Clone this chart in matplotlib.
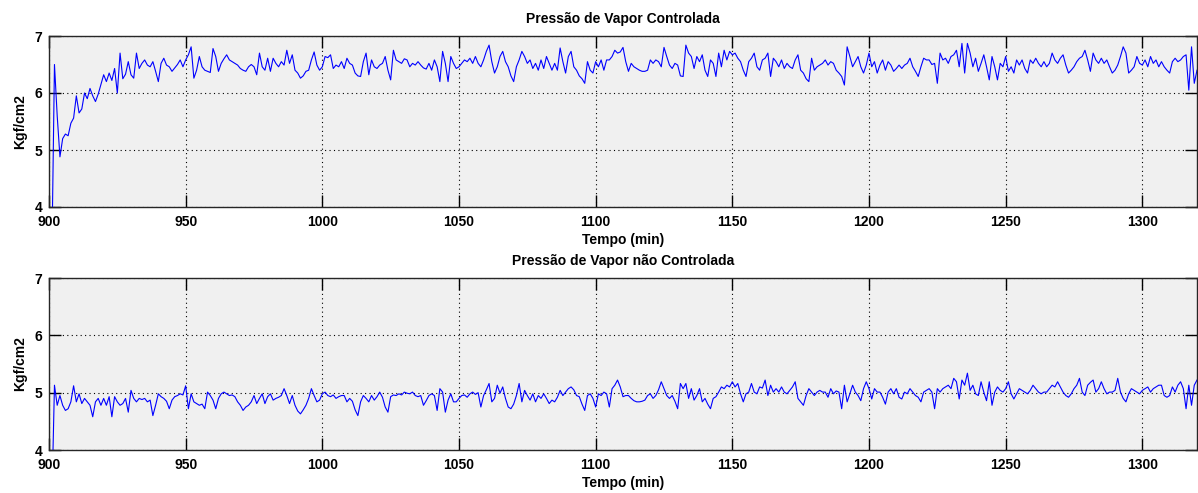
import numpy as np
import matplotlib
matplotlib.use("Agg")
import matplotlib.pyplot as plt

plt.rcParams['font.family'] = ['Liberation Sans', 'DejaVu Sans']
plt.rcParams['font.weight'] = 'bold'

# pressao controlada (kgf/cm2), um valor por minuto a partir de 901
controlada = [
    3.0, 6.5, 5.6, 4.88, 5.2, 5.28, 5.25, 5.47, 5.56, 5.95,
    5.65, 5.72, 6.0, 5.9, 6.08, 5.95, 5.85, 5.98, 6.15, 6.32,
    6.2, 6.35, 6.22, 6.43, 6.0, 6.7, 6.25, 6.33, 6.55, 6.32,
    6.26, 6.7, 6.43, 6.52, 6.58, 6.49, 6.46, 6.55, 6.38, 6.2,
    6.52, 6.61, 6.49, 6.46, 6.38, 6.44, 6.5, 6.58, 6.46, 6.58,
    6.67, 6.81, 6.26, 6.4, 6.64, 6.46, 6.40, 6.38, 6.36, 6.78,
    6.64, 6.38, 6.52, 6.60, 6.67, 6.58, 6.55, 6.52, 6.49, 6.43,
    6.40, 6.38, 6.46, 6.50, 6.46, 6.32, 6.70, 6.46, 6.40, 6.61,
    6.38, 6.61, 6.52, 6.46, 6.55, 6.49, 6.75, 6.52, 6.67, 6.40,
    6.35, 6.26, 6.30, 6.38, 6.40, 6.58, 6.72, 6.49, 6.40, 6.46,
    6.64, 6.62, 6.67, 6.43, 6.49, 6.46, 6.55, 6.43, 6.61, 6.52,
    6.49, 6.35, 6.30, 6.29, 6.55, 6.70, 6.32, 6.58, 6.46, 6.43,
    6.49, 6.52, 6.64, 6.40, 6.23, 6.75, 6.58, 6.55, 6.52, 6.60,
    6.58, 6.46, 6.52, 6.49, 6.55, 6.49, 6.44, 6.42, 6.52, 6.40,
    6.58, 6.46, 6.20, 6.73, 6.52, 6.20, 6.64, 6.52, 6.43, 6.46,
    6.52, 6.58, 6.55, 6.61, 6.52, 6.64, 6.52, 6.46, 6.58, 6.73,
    6.84, 6.55, 6.35, 6.46, 6.64, 6.73, 6.55, 6.46, 6.30, 6.20,
    6.46, 6.58, 6.73, 6.64, 6.52, 6.58, 6.43, 6.52, 6.40, 6.58,
    6.43, 6.64, 6.52, 6.40, 6.52, 6.40, 6.79, 6.55, 6.35, 6.64,
    6.73, 6.46, 6.40, 6.30, 6.25, 6.17, 6.55, 6.40, 6.35, 6.55,
    6.46, 6.58, 6.40, 6.58, 6.58, 6.64, 6.75, 6.70, 6.72, 6.80,
    6.55, 6.38, 6.52, 6.46, 6.43, 6.40, 6.38, 6.38, 6.40, 6.58,
    6.52, 6.58, 6.55, 6.46, 6.80, 6.64, 6.49, 6.43, 6.52, 6.49,
    6.30, 6.29, 6.84, 6.70, 6.64, 6.43, 6.64, 6.55, 6.67, 6.40,
    6.29, 6.58, 6.52, 6.29, 6.70, 6.46, 6.75, 6.58, 6.73, 6.67,
    6.70, 6.61, 6.55, 6.40, 6.29, 6.55, 6.61, 6.70, 6.46, 6.40,
    6.58, 6.61, 6.70, 6.29, 6.61, 6.55, 6.46, 6.58, 6.43, 6.52,
    6.46, 6.43, 6.58, 6.67, 6.40, 6.35, 6.25, 6.20, 6.61, 6.40,
    6.46, 6.49, 6.52, 6.58, 6.49, 6.55, 6.52, 6.40, 6.35, 6.29,
    6.14, 6.81, 6.64, 6.46, 6.55, 6.64, 6.46, 6.35, 6.49, 6.70,
    6.46, 6.55, 6.35, 6.49, 6.58, 6.40, 6.55, 6.49, 6.38, 6.43,
    6.49, 6.43, 6.49, 6.52, 6.61, 6.46, 6.38, 6.29, 6.46, 6.61,
    6.58, 6.58, 6.50, 6.52, 6.17, 6.70, 6.58, 6.61, 6.52, 6.64,
    6.67, 6.75, 6.46, 6.87, 6.35, 6.87, 6.70, 6.46, 6.61, 6.38,
    6.52, 6.67, 6.46, 6.23, 6.64, 6.46, 6.23, 6.52, 6.46, 6.64,
    6.38, 6.46, 6.35, 6.58, 6.49, 6.58, 6.43, 6.35, 6.58, 6.52,
    6.61, 6.52, 6.46, 6.55, 6.46, 6.52, 6.70, 6.58, 6.52, 6.61,
    6.67, 6.49, 6.35, 6.40, 6.46, 6.55, 6.61, 6.64, 6.75, 6.58,
    6.38, 6.70, 6.58, 6.52, 6.61, 6.52, 6.58, 6.46, 6.35, 6.40,
    6.49, 6.64, 6.81, 6.70, 6.35, 6.40, 6.46, 6.64, 6.52, 6.49,
    6.58, 6.46, 6.64, 6.52, 6.58, 6.46, 6.55, 6.46, 6.40, 6.35,
    6.55, 6.61, 6.55, 6.58, 6.64, 6.67, 6.05, 6.81, 6.17, 6.40,
]

# pressao nao controlada (kgf/cm2)
nao_controlada = [
    3.0, 5.13, 4.78, 4.95, 4.78, 4.69, 4.72, 4.84, 5.12, 4.84,
    4.98, 4.81, 4.90, 4.84, 4.78, 4.58, 4.84, 4.90, 4.78, 4.90,
    4.78, 4.93, 4.58, 4.93, 4.84, 4.78, 4.81, 4.90, 4.66, 5.04,
    4.90, 4.84, 4.90, 4.88, 4.90, 4.84, 4.87, 4.60, 4.78, 4.98,
    4.93, 4.90, 4.85, 4.72, 4.87, 4.93, 4.95, 4.98, 4.96, 5.12,
    4.72, 4.98, 4.84, 4.81, 4.78, 4.80, 4.72, 5.01, 4.95, 4.87,
    4.72, 4.90, 4.98, 5.01, 4.98, 4.95, 4.96, 4.93, 4.84, 4.78,
    4.69, 4.75, 4.78, 4.84, 4.95, 4.81, 4.90, 4.98, 4.81, 4.93,
    4.98, 4.87, 4.90, 4.92, 4.95, 5.07, 4.95, 4.81, 4.95, 4.78,
    4.68, 4.63, 4.70, 4.78, 4.90, 5.07, 4.95, 4.84, 4.87, 4.98,
    5.01, 4.95, 4.93, 4.96, 4.90, 4.93, 4.95, 4.95, 4.84, 4.90,
    4.85, 4.70, 4.60, 4.84, 4.95, 4.90, 4.84, 4.95, 4.87, 4.93,
    5.01, 4.92, 4.75, 4.66, 4.93, 4.96, 4.95, 4.98, 4.96, 5.01,
    4.99, 4.98, 5.01, 4.95, 4.93, 4.95, 4.78, 4.86, 4.95, 4.98,
    4.95, 4.69, 5.07, 5.01, 4.66, 4.87, 4.98, 4.84, 4.84, 4.90,
    4.95, 4.96, 4.92, 4.98, 5.01, 4.97, 5.00, 4.75, 4.95, 5.05,
    5.16, 4.84, 4.90, 5.13, 4.99, 5.10, 4.90, 4.75, 4.72, 4.80,
    4.95, 5.16, 4.84, 5.04, 4.95, 4.87, 4.98, 4.84, 4.95, 4.90,
    4.98, 4.90, 4.81, 4.87, 4.84, 4.92, 5.04, 4.95, 5.01, 5.07,
    5.10, 5.05, 4.95, 4.93, 4.80, 4.69, 4.95, 4.98, 4.90, 4.75,
    4.98, 4.95, 5.01, 4.98, 4.75, 5.07, 5.13, 5.22, 5.10, 4.93,
    4.95, 4.95, 4.90, 4.86, 4.84, 4.84, 4.85, 4.87, 4.95, 4.98,
    4.90, 4.95, 5.05, 5.19, 5.07, 4.95, 4.90, 4.95, 4.85, 4.72,
    5.16, 5.07, 5.16, 4.90, 5.07, 4.87, 4.95, 5.07, 4.84, 4.90,
    4.80, 4.72, 4.90, 4.93, 5.01, 5.10, 5.07, 5.13, 5.10, 5.19,
    5.10, 5.16, 4.98, 4.84, 4.98, 5.01, 5.16, 5.01, 4.98, 5.10,
    5.08, 5.22, 4.95, 5.13, 5.01, 5.07, 5.01, 5.10, 5.01, 4.98,
    5.04, 5.10, 5.19, 4.90, 4.84, 4.78, 4.95, 5.07, 5.01, 4.95,
    5.01, 5.04, 5.01, 5.01, 4.92, 5.07, 4.98, 5.03, 5.01, 4.72,
    5.13, 4.84, 4.98, 5.13, 5.01, 4.95, 4.86, 5.07, 5.19, 5.07,
    4.89, 5.07, 5.01, 5.01, 4.92, 4.80, 5.01, 5.07, 4.98, 5.07,
    4.92, 4.89, 5.01, 4.98, 5.07, 5.01, 4.95, 4.92, 4.84, 5.01,
    5.04, 5.07, 5.01, 4.72, 5.07, 5.01, 5.07, 5.10, 5.13, 5.07,
    5.25, 5.19, 4.89, 5.22, 5.13, 5.34, 5.04, 5.13, 4.98, 4.95,
    5.19, 5.01, 4.86, 5.19, 4.78, 5.01, 5.10, 5.04, 5.01, 5.07,
    5.19, 4.98, 4.89, 4.98, 5.07, 5.04, 5.01, 4.98, 5.04, 5.13,
    5.07, 5.01, 4.98, 5.01, 5.01, 5.07, 5.13, 5.10, 5.19, 5.10,
    5.01, 4.95, 4.92, 4.98, 5.07, 5.13, 5.25, 5.01, 4.95, 5.13,
    5.18, 5.22, 5.01, 5.07, 5.19, 5.07, 4.98, 5.01, 5.01, 5.04,
    5.25, 5.01, 4.90, 4.84, 4.98, 5.07, 5.04, 5.01, 4.98, 5.04,
    5.07, 5.10, 5.01, 5.07, 5.10, 5.13, 5.13, 4.95, 4.92, 4.95,
    5.10, 5.01, 5.13, 5.19, 5.07, 4.72, 5.13, 4.78, 5.13, 5.22,
]

tempo = 901 + np.arange(len(controlada))
xticks = [900, 950, 1000, 1050, 1100, 1150, 1200, 1250, 1300]
yticks = [4, 5, 6, 7]

fig = plt.figure(figsize=(11.98, 4.93), dpi=100)
ax1 = fig.add_axes([49 / 1198, 1 - 207 / 493, 1148 / 1198, 171 / 493])
ax2 = fig.add_axes([49 / 1198, 1 - 450 / 493, 1148 / 1198, 172 / 493])

for ax, y, titulo in [(ax1, controlada, 'Pressão de Vapor Controlada'),
                      (ax2, nao_controlada, 'Pressão de Vapor não Controlada')]:
    ax.set_facecolor('#f0f0f0')
    ax.plot(tempo, y, color='#0000ff', lw=0.8)
    ax.set_xlim(900, 1320)
    ax.set_ylim(4, 7)
    ax.set_xticks(xticks)
    ax.set_yticks(yticks)
    ax.grid(True, color='black', linestyle=(0, (1, 3)), lw=0.8)
    ax.tick_params(direction='in', length=8.3, width=1, top=True, right=True,
                   labelsize=10)
    ax.tick_params(axis='x', pad=5.5)
    ax.tick_params(axis='y', pad=5)
    for s in ax.spines.values():
        s.set_linewidth(1)
        s.set_color('#262626')
    ax.set_title(titulo, fontsize=10, fontweight='bold', pad=9)
    ax.set_xlabel('Tempo (min)', fontsize=10, fontweight='bold', labelpad=3.5)
    ax.set_ylabel('Kgf/cm2', fontsize=10, fontweight='bold', labelpad=5)

fig.savefig('out.png', dpi=100)
